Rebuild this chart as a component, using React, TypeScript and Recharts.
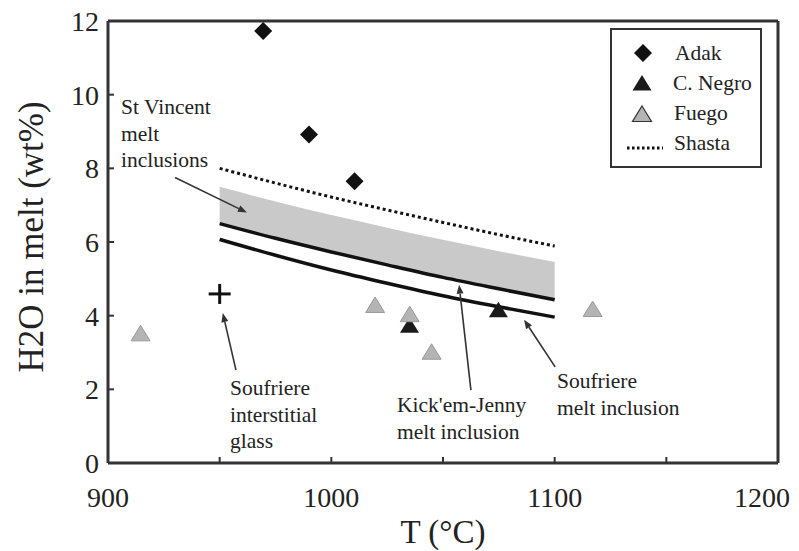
import React from 'react';
import {
  ComposedChart,
  XAxis,
  YAxis,
  Line,
  Area,
  Scatter,
  ReferenceLine,
} from 'recharts';

// temperature (°C) / H2O in melt (wt%)
const adak = [
  { x: 969.5, y: 11.73 },
  { x: 990, y: 8.92 },
  { x: 1010.4, y: 7.65 },
];
const cNegro = [
  { x: 1035, y: 3.74 },
  { x: 1074.8, y: 4.16 },
];
const fuego = [
  { x: 914.6, y: 3.52 },
  { x: 1019.6, y: 4.29 },
  { x: 1035.1, y: 4.04 },
  { x: 1044.9, y: 3.02 },
  { x: 1117, y: 4.18 },
];
const soufriereGlass = [{ x: 950, y: 4.59 }];

const curveT = [950, 975, 1000, 1025, 1050, 1075, 1100];
const shastaH2O = [8.0, 7.6, 7.22, 6.87, 6.53, 6.2, 5.89];
const stVincentTop = [7.5, 7.1, 6.73, 6.39, 6.06, 5.75, 5.46];
const soufriereMI = [6.5, 6.1, 5.73, 5.38, 5.04, 4.73, 4.43];
const kickEmJennyMI = [6.07, 5.64, 5.24, 4.88, 4.54, 4.24, 3.96];

const xTicks = [900, 950, 1000, 1050, 1100, 1150, 1200];
const yTicks = [0, 2, 4, 6, 8, 10, 12];

const shasta = curveT.map((x, i) => ({ x, y: shastaH2O[i] }));
const upperLine = curveT.map((x, i) => ({ x, y: soufriereMI[i] }));
const lowerLine = curveT.map((x, i) => ({ x, y: kickEmJennyMI[i] }));
const band = curveT.map((x, i) => ({ x, y: [soufriereMI[i], stVincentTop[i]] }));

// pointers from the labels to the features, [from, to] in data units
const arrows = [
  [{ x: 930.0, y: 7.75 }, { x: 962.2, y: 6.8 }],
  [{ x: 957.3, y: 2.52 }, { x: 951.4, y: 4.07 }],
  [{ x: 1062.5, y: 1.98 }, { x: 1057.2, y: 4.84 }],
  [{ x: 1100.2, y: 2.61 }, { x: 1086.3, y: 3.89 }],
];

const FONT = '"Liberation Serif", "DejaVu Serif", serif';
const INK = '#222';
const AXIS = '#333';

const Diamond = ({ cx, cy }: any) => (
  <path d={`M${cx},${cy - 9} L${cx + 9},${cy} L${cx},${cy + 9} L${cx - 9},${cy} Z`} fill="#111" />
);

const triPath = (cx: number, cy: number) =>
  `M${cx},${cy - 8} L${cx + 9.5},${cy + 7.5} L${cx - 9.5},${cy + 7.5} Z`;

const BlackTri = ({ cx, cy }: any) => <path d={triPath(cx, cy)} fill="#1a1a1a" />;
const GreyTri = ({ cx, cy }: any) => (
  <path d={triPath(cx, cy)} fill="#b4b4b4" stroke="#9a9a9a" strokeWidth={1} />
);
const Plus = ({ cx, cy }: any) => (
  <g stroke="#111" strokeWidth={3}>
    <line x1={cx - 11} y1={cy} x2={cx + 11} y2={cy} />
    <line x1={cx} y1={cy - 10} x2={cx} y2={cy + 10} />
  </g>
);

const Arrow = (props: any) => {
  const { x1, y1, x2, y2 } = props;
  const a = Math.atan2(y2 - y1, x2 - x1);
  const len = 9;
  const w = 3.5;
  const bx = x2 - len * Math.cos(a);
  const by = y2 - len * Math.sin(a);
  const px = -Math.sin(a) * w;
  const py = Math.cos(a) * w;
  return (
    <g>
      <line x1={x1} y1={y1} x2={bx} y2={by} stroke={AXIS} strokeWidth={1.6} />
      <path d={`M${x2},${y2} L${bx + px},${by + py} L${bx - px},${by - py} Z`} fill={AXIS} />
    </g>
  );
};

const XTick = ({ x, y, payload }: any) => {
  const v = payload.value;
  const last = v === xTicks[xTicks.length - 1];
  return (
    <g>
      <line x1={x} y1={y} x2={x} y2={y - 6} stroke={AXIS} strokeWidth={2} />
      {v % 100 === 0 && (
        <text
          x={last ? x + 12 : x}
          y={y + 44}
          textAnchor={last ? 'end' : 'middle'}
          fontSize={28}
          fontFamily={FONT}
          fill={INK}
        >
          {v}
        </text>
      )}
    </g>
  );
};

const YTick = ({ x, y, payload }: any) => (
  <g>
    <line x1={x} y1={y} x2={x + 6} y2={y} stroke={AXIS} strokeWidth={2} />
    <text x={x - 9} y={y + 10} textAnchor="end" fontSize={28} fontFamily={FONT} fill={INK}>
      {payload.value}
    </text>
  </g>
);

const notes = [
  { x: 121, y: 114, lines: ['St Vincent', 'melt', 'inclusions'] },
  { x: 230, y: 395, lines: ['Soufriere', 'interstitial', 'glass'] },
  { x: 397, y: 412, lines: ["Kick'em-Jenny", 'melt inclusion'] },
  { x: 557, y: 388, lines: ['Soufriere', 'melt inclusion'] },
];

export default function App() {
  return (
    <div style={{ position: 'absolute', left: 0, top: 0, width: 799, height: 551, background: '#fff' }}>
      <ComposedChart
        width={799}
        height={551}
        margin={{ top: 21, right: 21, bottom: 48, left: 48 }}
      >
        <XAxis
          type="number"
          dataKey="x"
          domain={[900, 1200]}
          ticks={xTicks}
          allowDataOverflow
          height={40}
          tickSize={0}
          tickMargin={0}
          tick={<XTick />}
          tickLine={false}
          axisLine={{ stroke: AXIS, strokeWidth: 3 }}
        />
        <YAxis
          type="number"
          dataKey="y"
          domain={[0, 12]}
          ticks={yTicks}
          allowDataOverflow
          width={60}
          tickSize={0}
          tickMargin={0}
          tick={<YTick />}
          tickLine={false}
          axisLine={{ stroke: AXIS, strokeWidth: 3 }}
        />
        <ReferenceLine y={12} stroke={AXIS} strokeWidth={3} />
        <ReferenceLine x={1200} stroke={AXIS} strokeWidth={3} />
        <Area
          data={band}
          dataKey="y"
          type="monotone"
          stroke="none"
          fill="#c9c9c9"
          fillOpacity={1}
          isAnimationActive={false}
        />
        <Line
          data={shasta}
          dataKey="y"
          type="monotone"
          stroke="#111"
          strokeWidth={3}
          strokeDasharray="3 3"
          dot={false}
          isAnimationActive={false}
        />
        <Line
          data={upperLine}
          dataKey="y"
          type="monotone"
          stroke="#111"
          strokeWidth={3.5}
          dot={false}
          isAnimationActive={false}
        />
        <Line
          data={lowerLine}
          dataKey="y"
          type="monotone"
          stroke="#111"
          strokeWidth={3.5}
          dot={false}
          isAnimationActive={false}
        />
        <Scatter data={adak} shape={<Diamond />} isAnimationActive={false} />
        <Scatter data={cNegro} shape={<BlackTri />} isAnimationActive={false} />
        <Scatter data={fuego} shape={<GreyTri />} isAnimationActive={false} />
        <Scatter data={soufriereGlass} shape={<Plus />} isAnimationActive={false} />
        {arrows.map((seg, i) => (
          <ReferenceLine key={i} segment={seg} shape={<Arrow />} ifOverflow="visible" />
        ))}
      </ComposedChart>

      <svg
        width={799}
        height={551}
        style={{ position: 'absolute', left: 0, top: 0, pointerEvents: 'none' }}
        fontFamily={FONT}
      >
        {notes.map((n, i) => (
          <text key={i} x={n.x} y={n.y} fontSize={21.5} fill={INK}>
            {n.lines.map((l, j) => (
              <tspan key={j} x={n.x} dy={j === 0 ? 0 : 26.5}>
                {l}
              </tspan>
            ))}
          </text>
        ))}

        <text
          transform="translate(43,237) rotate(-90)"
          textAnchor="middle"
          fontSize={35}
          fill={INK}
        >
          H2O in melt (wt%)
        </text>
        <text x={443} y={543} textAnchor="middle" fontSize={33} fill={INK}>
          T (°C)
        </text>

        {/* legend */}
        <rect x={611} y={29} width={150} height={138} fill="#fff" stroke={AXIS} strokeWidth={2} />
        <Diamond cx={643} cy={53} />
        <BlackTri cx={642} cy={83} />
        <path d={triPath(642, 114)} fill="#b4b4b4" stroke="#333" strokeWidth={1.2} />
        <line x1={627} y1={148} x2={663} y2={148} stroke="#111" strokeWidth={3} strokeDasharray="2.5 2.5" />
        <g fontSize={21.5} fill={INK}>
          <text x={675} y={60}>Adak</text>
          <text x={673} y={90}>C. Negro</text>
          <text x={674} y={120}>Fuego</text>
          <text x={674} y={150}>Shasta</text>
        </g>
      </svg>
    </div>
  );
}
